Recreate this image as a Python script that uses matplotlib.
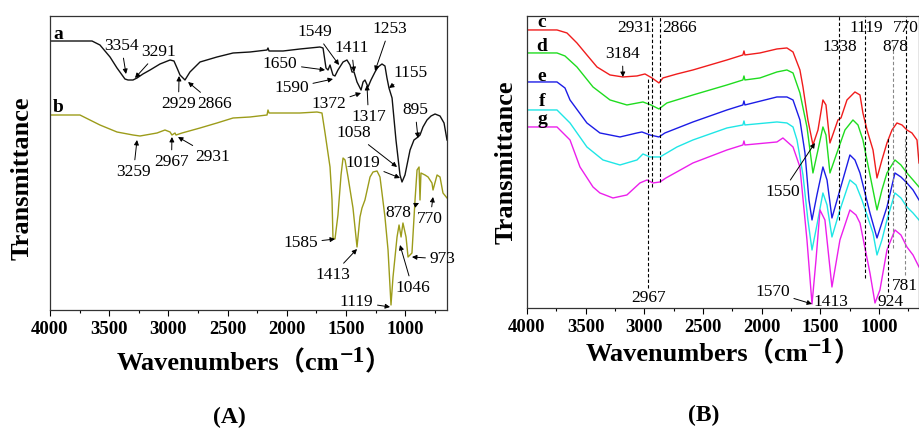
import matplotlib
matplotlib.use("Agg")
import matplotlib.pyplot as plt
from matplotlib.ticker import MultipleLocator

plt.rcParams["font.family"] = ["Liberation Serif", "DejaVu Serif", "Noto Sans CJK SC"]

# ---------------- panel A : spectra a (black) and b (olive) ----------------
a_wn = [4000, 3645, 3578, 3493, 3434, 3367, 3341, 3299, 3265, 3215, 3155, 3071, 2986, 2953,
        2927, 2902, 2860, 2818, 2733, 2590, 2454, 2311, 2167, 2159, 2150, 2032, 1889, 1720,
        1694, 1669, 1652, 1635, 1610, 1593, 1568, 1525, 1492, 1466, 1449, 1432, 1407, 1390,
        1373, 1356, 1340, 1314, 1289, 1255, 1230, 1196, 1171, 1154, 1137, 1111, 1078, 1044,
        1027, 1002, 959, 926, 892, 875, 850, 816, 782, 748, 706, 672, 647]
a_t = [269, 269, 265, 253, 242, 231, 230, 230, 232, 236, 240, 246, 250, 249,
       242, 235, 230, 238, 248, 253, 257, 258, 260, 262, 259, 259, 261, 263,
       262, 242, 240, 245, 235, 234, 240, 248, 250, 245, 238, 238, 228, 224,
       220, 228, 230, 223, 230, 238, 243, 246, 244, 232, 222, 212, 170, 135,
       128, 135, 160, 170, 173, 175, 183, 190, 194, 196, 194, 187, 170]

b_wn = [4000, 3747, 3578, 3434, 3299, 3240, 3096, 3029, 2986, 2970, 2944, 2936, 2885, 2733,
        2590, 2454, 2311, 2167, 2159, 2150, 2032, 1889, 1745, 1703, 1677, 1635, 1618, 1610,
        1593, 1568, 1542, 1525, 1508, 1483, 1441, 1407, 1382, 1365, 1340, 1297, 1272, 1238,
        1213, 1196, 1171, 1145, 1120, 1103, 1069, 1052, 1035, 1019, 993, 976, 943, 917,
        900, 883, 875, 867, 833, 807, 774, 765, 731, 706, 681, 647]
b_t = [195, 195, 185, 178, 175, 174, 177, 180, 178, 175, 177, 175, 177, 182,
       187, 192, 193, 195, 200, 197, 197, 197, 198, 197, 177, 143, 110, 72,
       71, 95, 135, 152, 150, 133, 102, 63, 93, 102, 110, 133, 138, 139,
       133, 117, 93, 60, 5, 33, 73, 85, 73, 87, 73, 53, 57, 110,
       140, 143, 110, 137, 135, 133, 127, 120, 135, 133, 117, 112]

# ---------------- panel B : spectra c..g ----------------
c_wn = [4000, 3744, 3659, 3574, 3489, 3403, 3292, 3182, 3062, 2994, 2934, 2875, 2841, 2721,
        2585, 2440, 2295, 2159, 2150, 2142, 2014, 1869, 1784, 1732, 1673, 1647, 1605, 1562,
        1519, 1477, 1451, 1417, 1349, 1323, 1272, 1204, 1161, 1136, 1101, 1050, 1016, 974,
        931, 888, 846, 803, 761, 718, 675, 658]
c_t = [278, 278, 275, 265, 253, 241, 233, 231, 232, 234, 230, 225, 230, 234,
       238, 243, 248, 253, 257, 253, 255, 259, 260, 256, 238, 221, 188, 163,
       178, 208, 203, 165, 188, 190, 208, 216, 213, 195, 178, 158, 130, 148,
       165, 178, 185, 183, 178, 175, 168, 145]

d_wn = [4000, 3744, 3676, 3574, 3437, 3292, 3148, 3011, 2943, 2875, 2807, 2585, 2295, 2159,
        2150, 2142, 2014, 1869, 1784, 1732, 1673, 1613, 1562, 1519, 1477, 1451, 1417, 1349,
        1289, 1221, 1178, 1136, 1093, 1050, 1016, 974, 931, 863, 812, 761, 709, 658]
d_t = [255, 255, 252, 241, 221, 208, 203, 206, 203, 199, 205, 213, 223, 228,
       232, 228, 230, 236, 238, 235, 215, 181, 135, 158, 181, 173, 135, 158,
       178, 188, 183, 168, 143, 118, 98, 118, 135, 148, 143, 135, 128, 121]

e_wn = [4000, 3744, 3676, 3633, 3489, 3378, 3207, 3062, 3020, 2951, 2875, 2824, 2585, 2295,
        2159, 2150, 2142, 1869, 1784, 1732, 1673, 1630, 1596, 1570, 1528, 1477, 1442, 1400,
        1332, 1247, 1204, 1161, 1076, 1016, 931, 863, 812, 761, 709, 658]
e_t = [226, 226, 220, 208, 185, 175, 171, 175, 176, 173, 171, 175, 186, 198,
       203, 207, 203, 211, 211, 208, 188, 155, 108, 88, 113, 141, 128, 90,
       118, 153, 148, 135, 95, 70, 101, 135, 131, 125, 118, 108]

f_wn = [4000, 3744, 3633, 3489, 3352, 3207, 3062, 3011, 2951, 2866, 2721, 2585, 2295, 2159,
        2150, 2142, 1869, 1784, 1732, 1698, 1647, 1605, 1570, 1528, 1477, 1442, 1400, 1332,
        1247, 1195, 1144, 1050, 1016, 974, 931, 863, 812, 761, 709, 658]
f_t = [198, 198, 185, 161, 148, 143, 148, 154, 151, 151, 161, 168, 180, 183,
       187, 183, 186, 185, 181, 168, 133, 88, 58, 83, 115, 103, 71, 98,
       128, 123, 108, 75, 53, 68, 88, 115, 110, 101, 95, 88]

g_wn = [4000, 3744, 3633, 3548, 3437, 3378, 3267, 3148, 3037, 2977, 2926, 2866, 2815, 2585,
        2295, 2159, 2150, 2142, 1869, 1818, 1732, 1673, 1613, 1570, 1536, 1502, 1460, 1400,
        1332, 1247, 1195, 1161, 1076, 1033, 991, 931, 863, 812, 761, 709, 658]
g_t = [181, 181, 168, 141, 121, 115, 110, 113, 125, 128, 125, 126, 130, 145,
       158, 163, 167, 163, 166, 170, 161, 141, 68, 4, 48, 98, 88, 21,
       68, 98, 93, 85, 35, 5, 18, 58, 78, 73, 61, 53, 41]

# peak labels: (text, text position, arrow tip or None)
peaks_a = [
    ("3354", (3396, 264), (3358, 236)),
    ("3291", (3084, 258), (3282, 232)),
    ("2929", (2915, 206), (2910, 234)),
    ("2866", (2611, 206), (2834, 228)),
    ("1650", (2057, 246), (1677, 240)),
    ("1590", (1960, 222), (1610, 231)),
    ("1549", (1762, 278), (1559, 245)),
    ("1411", (1454, 262), (1432, 238)),
    ("1372", (1648, 206), (1373, 217)),
    ("1317", (1310, 193), (1323, 225)),
    ("1253", (1133, 281), (1255, 239)),
    ("1155", (955, 237), (1137, 222)),
    ("895", (917, 200), (892, 172)),
    ("1058", (1437, 177), (1069, 143)),
    ("1019", (1361, 147), (1044, 132)),
    ("3259", (3295, 138), (3265, 170)),
    ("2967", (2974, 148), (2970, 173)),
    ("2931", (2628, 153), (2919, 173)),
    ("1585", (1884, 67), (1593, 71)),
    ("1413", (1614, 35), (1407, 61)),
    ("1119", (1411, 8), (1128, 3)),
    ("1046", (938, 22), (1044, 65)),
    ("973", (685, 51), (943, 53)),
    ("878", (1057, 97), (883, 107)),
    ("770", (790, 91), (765, 113)),
]

peaks_b = [
    ("2931", (3079, 280), None),
    ("2866", (2696, 280), None),
    ("3184", (3186, 254), (3182, 231)),
    ("1338", (1336, 261), None),
    ("1119", (1110, 280), None),
    ("878", (858, 261), None),
    ("770", (769, 280), None),
    ("1550", (1822, 116), (1545, 165)),
    ("2967", (2964, 10), None),
    ("1570", (1907, 16), (1570, 4)),
    ("1413", (1408, 6), None),
    ("924", (901, 6), None),
    ("781", (782, 22), None),
]

# guide lines in B: (wavenumber, bottom, top, colour)
guides_b = [
    (2967, 20, 231, "k"),
    (2931, 121, 292, "k"),
    (2866, 126, 292, "k"),
    (1338, 88, 292, "k"),
    (1119, 30, 292, "k"),
    (878, 60, 263, "#888888"),
    (770, 80, 292, "k"),
    (924, 16, 171, "k"),
    (781, 33, 170, "#888888"),
]


def style_axis(ax, right, top):
    ax.set_xlim(4000, right)
    ax.set_ylim(0, top)
    ax.xaxis.set_major_locator(MultipleLocator(500))
    ax.xaxis.set_minor_locator(MultipleLocator(250))
    ax.tick_params(axis="x", which="major", direction="out", length=4, width=0.8,
                   labelsize=13.5, pad=4)
    ax.tick_params(axis="x", which="minor", direction="out", length=2.5, width=0.8)
    ax.set_yticks([])
    for lab in ax.get_xticklabels():
        lab.set_fontweight("bold")
    for sp in ax.spines.values():
        sp.set_color("#333333")
        sp.set_linewidth(0.9)


def put_peaks(ax, peaks):
    for txt, xy_text, tip in peaks:
        if tip is None:
            ax.text(xy_text[0], xy_text[1], txt, ha="center", va="center", fontsize=12.5)
        else:
            ax.annotate(txt, xy=tip, xytext=xy_text, ha="center", va="center", fontsize=12.5,
                        arrowprops=dict(arrowstyle="-|>", color="k", lw=0.7,
                                        mutation_scale=7, shrinkA=1, shrinkB=0))


def xlabel_parts(fig, ax, x, y):
    t1 = fig.text(x, y, "Wavenumbers（cm", fontsize=19, fontweight="bold", va="baseline")
    t2 = ax.annotate("\u22121", xy=(1, 0.32), xycoords=t1, va="bottom", ha="left",
                     fontsize=17, fontweight="bold", annotation_clip=False)
    ax.annotate("）", xy=(1, 0), xycoords=(t2, t1), va="bottom", ha="left",
                fontsize=19, fontweight="bold", annotation_clip=False)


fig = plt.figure(figsize=(9.19, 4.29), dpi=100)
axA = fig.add_axes([0.0544, 0.2774, 0.4320, 0.6853])
axB = fig.add_axes([0.5734, 0.2821, 0.4271, 0.6807])

axA.plot(a_wn, a_t, color="#111111", lw=1.0)
axA.plot(b_wn, b_t, color="#9c9c1a", lw=1.0)
style_axis(axA, 647, 294)
put_peaks(axA, peaks_a)
axA.text(3932, 276, "a", fontsize=14, fontweight="bold", ha="center", va="center")
axA.text(3932, 202, "b", fontsize=14, fontweight="bold", ha="center", va="center")

for wn, t, col in [(c_wn, c_t, "#f01c1c"), (d_wn, d_t, "#1fdc1f"), (e_wn, e_t, "#1c1ce6"),
                   (f_wn, f_t, "#1fe6e6"), (g_wn, g_t, "#ec1fec")]:
    axB.plot(wn, t, color=col, lw=1.0)
for wn, lo, hi, col in guides_b:
    axB.vlines(wn, lo, hi, colors=col, linestyles=(0, (3, 2)), lw=0.8)
style_axis(axB, 654, 292)
put_peaks(axB, peaks_b)
for lab, yy in [("c", 285), ("d", 261), ("e", 231), ("f", 206), ("g", 188)]:
    axB.text(3872, yy, lab, fontsize=14, fontweight="bold", ha="center", va="center")

fig.text(0.024, 0.585, "Transmittance", rotation=90, fontsize=19, fontweight="bold",
         ha="center", va="center")
fig.text(0.551, 0.622, "Transmittance", rotation=90, fontsize=19, fontweight="bold",
         ha="center", va="center")
xlabel_parts(fig, axA, 0.127, 1 - 370 / 429)
xlabel_parts(fig, axB, 0.637, 1 - 361 / 429)

fig.text(229 / 919, 1 - 417 / 429, "(A)", fontsize=17, fontweight="bold", ha="center", va="center")
fig.text(704 / 919, 1 - 415 / 429, "(B)", fontsize=17, fontweight="bold", ha="center", va="center")

fig.savefig("out.png", dpi=100)
